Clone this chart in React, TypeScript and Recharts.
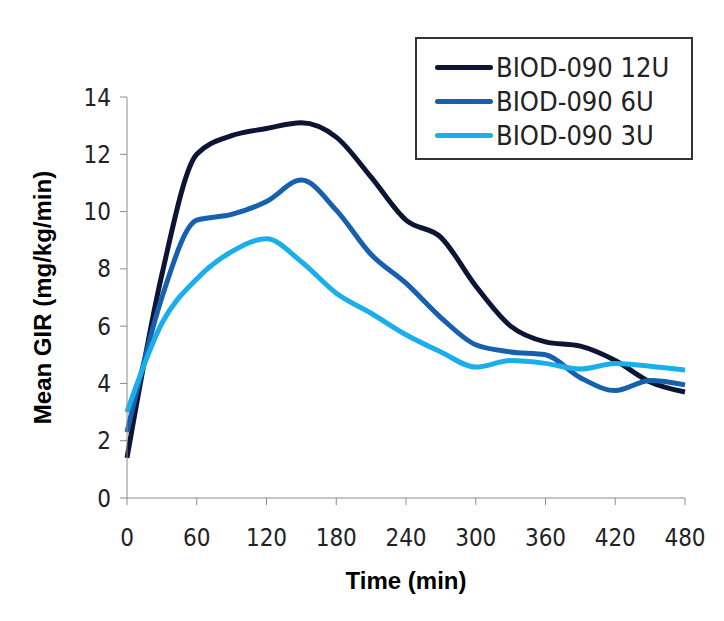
import React from 'react';
import { LineChart, Line, XAxis, YAxis, Legend } from 'recharts';

const times = [0, 30, 60, 90, 120, 150, 180, 210, 240, 270, 300, 330, 360, 390, 420, 450, 480];
const dose12 = [1.4, 7.8, 12.0, 12.65, 12.9, 13.1, 12.6, 11.2, 9.7, 9.1, 7.4, 6.0, 5.45, 5.3, 4.8, 4.05, 3.7];
const dose6 = [2.3, 7.0, 9.7, 9.9, 10.35, 11.1, 10.05, 8.5, 7.5, 6.3, 5.35, 5.1, 5.0, 4.2, 3.75, 4.1, 3.95];
const dose3 = [3.0, 6.1, 7.65, 8.6, 9.05, 8.25, 7.15, 6.45, 5.7, 5.1, 4.57, 4.8, 4.7, 4.5, 4.7, 4.6, 4.47];
const seriesNames = ['BIOD-090 12U', 'BIOD-090 6U', 'BIOD-090 3U'];
const seriesColors = ['#0c1634', '#1660ae', '#1aaeea'];
const xTicks = [0, 60, 120, 180, 240, 300, 360, 420, 480];
const yTicks = [0, 2, 4, 6, 8, 10, 12, 14];

const data = times.map((t, i) => ({ t, d12: dose12[i], d6: dose6[i], d3: dose3[i] }));

const font = "'Liberation Sans Narrow', 'DejaVu Sans Condensed', Lato, sans-serif";
const tickStyle = { fill: '#222', fontSize: 24, fontFamily: font };
const titleStyle = { fontFamily: 'Liberation Sans, Arial, sans-serif', fontWeight: 'bold', fontSize: 24, fill: '#000', textAnchor: 'middle' };

// legend drawn from our own list so the order stays as in the reference
const renderLegend = () => (
  <div style={{ border: '2px solid #333', width: 274, height: 119, background: '#fff', boxSizing: 'content-box' }}>
    {seriesNames.map((name, i) => (
      <div key={name} style={{ display: 'flex', alignItems: 'center', height: 34, marginTop: i === 0 ? 11 : 0 }}>
        <div style={{ width: 58, height: 5, borderRadius: 3, background: seriesColors[i], marginLeft: 18, marginRight: 3 }} />
        <span style={{ fontFamily: font, fontSize: 27, color: '#222' }}>{name}</span>
      </div>
    ))}
  </div>
);

export default function App() {
  return (
    <LineChart width={716} height={613} data={data} margin={{ top: 89, right: 39, left: 0, bottom: 0 }}>
      <XAxis
        dataKey="t"
        type="number"
        domain={[0, 480]}
        ticks={xTicks}
        height={123}
        stroke="#8c8c8c"
        tickSize={7}
        tickMargin={24}
        tick={tickStyle}
        label={{ value: 'Time (min)', position: 'insideBottom', offset: 32, style: titleStyle }}
      />
      <YAxis
        domain={[0, 14]}
        ticks={yTicks}
        width={119}
        stroke="#8c8c8c"
        tickSize={7}
        tickMargin={9}
        tick={tickStyle}
        label={{ value: 'Mean GIR (mg/kg/min)', angle: -90, position: 'insideLeft', offset: 34, style: titleStyle }}
      />
      <Legend
        layout="vertical"
        align="center"
        verticalAlign="middle"
        content={renderLegend}
        wrapperStyle={{ left: 407, top: 29, width: 278, height: 123 }}
      />
      <Line type="monotone" dataKey="d12" name={seriesNames[0]} stroke={seriesColors[0]} strokeWidth={5} dot={false} isAnimationActive={false} />
      <Line type="monotone" dataKey="d6" name={seriesNames[1]} stroke={seriesColors[1]} strokeWidth={5} dot={false} isAnimationActive={false} />
      <Line type="monotone" dataKey="d3" name={seriesNames[2]} stroke={seriesColors[2]} strokeWidth={5} dot={false} isAnimationActive={false} />
    </LineChart>
  );
}
